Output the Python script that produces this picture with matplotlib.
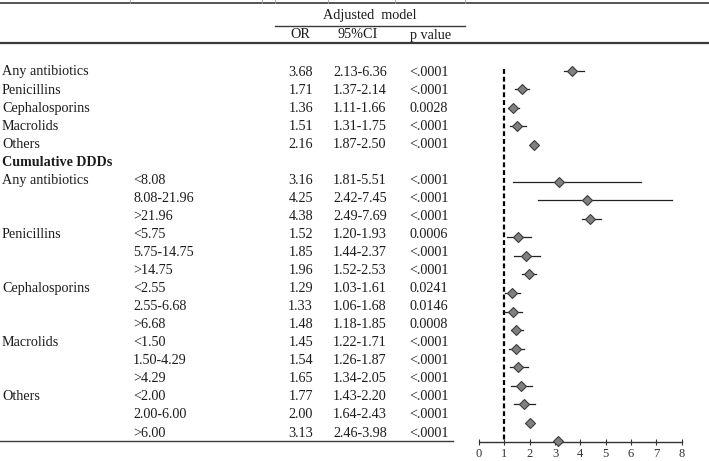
import matplotlib

matplotlib.use("Agg")

import matplotlib.pyplot as plt

WIDTH = 709
HEIGHT = 461
DPI = 100

INK = "#1c1c1c"
RULE = "#3a3a3a"
SERIF = "Liberation Serif"

# Table rows (row 5 is the bold "Cumulative DDDs" heading).
groups = ["Any antibiotics", "Penicillins", "Cephalosporins", "Macrolids", "Others",
          "Cumulative DDDs", "Any antibiotics", "", "", "Penicillins", "", "",
          "Cephalosporins", "", "", "Macrolids", "", "", "Others", "", ""]
levels = ["", "", "", "", "", "", "<8.08", "8.08-21.96", ">21.96", "<5.75",
          "5.75-14.75", ">14.75", "<2.55", "2.55-6.68", ">6.68", "<1.50",
          "1.50-4.29", ">4.29", "<2.00", "2.00-6.00", ">6.00"]
odds = [3.68, 1.71, 1.36, 1.51, 2.16, None, 3.16, 4.25, 4.38, 1.52, 1.85, 1.96,
        1.29, 1.33, 1.48, 1.45, 1.54, 1.65, 1.77, 2.00, 3.13]
ci_text = ["2.13-6.36", "1.37-2.14", "1.11-1.66", "1.31-1.75", "1.87-2.50", "",
           "1.81-5.51", "2.42-7.45", "2.49-7.69", "1.20-1.93", "1.44-2.37",
           "1.52-2.53", "1.03-1.61", "1.06-1.68", "1.18-1.85", "1.22-1.71",
           "1.26-1.87", "1.34-2.05", "1.43-2.20", "1.64-2.43", "2.46-3.98"]
p_text = ["<.0001", "<.0001", "0.0028", "<.0001", "<.0001", "",
          "<.0001", "<.0001", "<.0001", "0.0006", "<.0001", "<.0001",
          "0.0241", "0.0146", "0.0008", "<.0001", "<.0001", "<.0001",
          "<.0001", "<.0001", "<.0001"]

# Whiskers as drawn in the forest panel (read off the plot, not the table).
plot_lo = [3.34, 1.43, 1.16, 1.21, 2.05, None, 1.33, 2.34, 4.08, 1.10, 1.39,
           1.71, 1.03, 1.00, 1.26, 1.20, 1.21, 1.28, 1.39, 1.92, 3.05]
plot_hi = [4.13, 1.99, 1.58, 1.87, 2.27, None, 6.38, 7.60, 4.82, 2.05, 2.42,
           2.26, 1.61, 1.69, 1.74, 1.79, 1.92, 2.08, 2.21, 2.08, 3.20]
x_ticks = [0, 1, 2, 3, 4, 5, 6, 7, 8]


def text(ax, x, y, s, ha="left", weight="normal", size=10.2):
    ax.text(x, y, s, ha=ha, va="center", fontsize=size, family=SERIF,
            weight=weight, color=INK)


def main():
    fig = plt.figure(figsize=(WIDTH / DPI, HEIGHT / DPI), dpi=DPI, facecolor="white")

    # Table layer in pixel coordinates (y grows downward).
    tab = fig.add_axes([0, 0, 1, 1])
    tab.set_xlim(0, WIDTH)
    tab.set_ylim(HEIGHT, 0)
    tab.axis("off")

    tab.plot([0, WIDTH], [3, 3], color="#555555", lw=1.4)
    for x in (130, 262, 275, 328, 395, 465):
        tab.plot([x, x], [0, 3], color="#999999", lw=0.6)
    text(tab, 370, 16, "Adjusted  model", ha="center")
    tab.plot([275, 465], [26, 26], color=RULE, lw=1.0)
    text(tab, 300, 35, "OR", ha="center")
    text(tab, 358, 35, "95%CI", ha="center")
    text(tab, 431, 35, "p value", ha="center")
    tab.plot([0, WIDTH], [43, 43], color=RULE, lw=1.6)

    row_y = [72 + 18.05 * i for i in range(len(groups))]
    for i, y in enumerate(row_y):
        if odds[i] is None:
            text(tab, 2, y, groups[i], weight="bold")
            continue
        text(tab, 2, y, groups[i])
        text(tab, 133, y, levels[i])
        text(tab, 313, y, f"{odds[i]:.2f}", ha="right")
        text(tab, 333, y, ci_text[i])
        text(tab, 409, y, p_text[i])
    tab.plot([0, 453], [441, 441], color=RULE, lw=1.0)

    # Forest panel: 0..8 spans x=479..682 px, row i sits at y = 71 + 18.5*i px.
    top_px, bottom_px = 60, 442
    left_px, right_px = 479, 681.7
    fp = fig.add_axes([left_px / WIDTH, 1 - bottom_px / HEIGHT,
                       (right_px - left_px) / WIDTH, (bottom_px - top_px) / HEIGHT])
    fp.set_xlim(0, 8)
    fp.set_ylim((bottom_px - 71) / 18.5, (top_px - 71) / 18.5)
    fp.patch.set_alpha(0)
    for side in ("left", "right", "top"):
        fp.spines[side].set_visible(False)
    fp.spines["bottom"].set_color("#333333")
    fp.spines["bottom"].set_linewidth(1.0)
    fp.set_yticks([])
    fp.set_xticks(x_ticks)
    fp.tick_params(axis="x", direction="inout", length=5, width=0.8,
                   colors="#333333", labelsize=9, pad=1.5)
    for lab in fp.get_xticklabels():
        lab.set_family(SERIF)

    fp.plot([1, 1], [-0.1, (bottom_px - 71) / 18.5], color="black", lw=1.6,
            linestyle=(0, (2.2, 1.3)), zorder=1)
    for i, value in enumerate(odds):
        if value is None:
            continue
        fp.plot([plot_lo[i], plot_hi[i]], [i, i], color="#222222", lw=0.9, zorder=2)
        fp.plot(value, i, marker="D", markersize=4.8, markerfacecolor="#808080",
                markeredgecolor="#3c3c3c", markeredgewidth=0.8, clip_on=False,
                zorder=3)

    fig.savefig("out.png", dpi=DPI, facecolor="white")
    plt.close(fig)


if __name__ == "__main__":
    main()
